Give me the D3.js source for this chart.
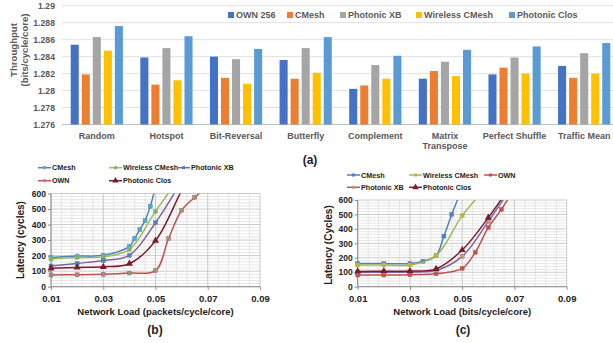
<!DOCTYPE html>
<html>
<head>
<meta charset="utf-8">
<script src="https://cdn.jsdelivr.net/npm/d3@7"></script>
<style>
body { margin: 0; background: #fff; }
text { font-family: "Liberation Sans", Arial, sans-serif; }
</style>
</head>
<body>
<svg id="fig" width="613" height="343"></svg>
<script>
// (a) throughput per traffic pattern
const patterns = ["Random", "Hotspot", "Bit-Reversal", "Butterfly", "Complement", "Matrix Transpose", "Perfect Shuffle", "Traffic Mean"];
const barSeries = ["OWN 256", "CMesh", "Photonic XB", "Wireless CMesh", "Photonic Clos"];
const own256 = [1.2854, 1.2839, 1.2840, 1.2836, 1.2802, 1.2814, 1.2819, 1.2829];
const cmesh = [1.2819, 1.2807, 1.2815, 1.2814, 1.2806, 1.2823, 1.2827, 1.2815];
const photonicXB = [1.2863, 1.2850, 1.2837, 1.2850, 1.2830, 1.2834, 1.2839, 1.2844];
const wirelessCMesh = [1.2847, 1.2812, 1.2808, 1.2821, 1.2814, 1.2817, 1.2820, 1.2820];
const photonicClos = [1.2876, 1.2864, 1.2849, 1.2863, 1.2841, 1.2848, 1.2852, 1.2856];
const throughputTicks = [1.276, 1.278, 1.28, 1.282, 1.284, 1.286, 1.288, 1.29];

// (b) latency vs load (packets/cycle/core)
const cmeshLoadB = [0.01, 0.02, 0.03, 0.04, 0.042, 0.044, 0.046, 0.048, 0.05];
const cmeshLatB = [188, 197, 202, 260, 310, 368, 425, 518, 640];
const wirelessLoadB = [0.01, 0.02, 0.03, 0.04, 0.05, 0.06];
const wirelessLatB = [178, 188, 192, 240, 485, 720];
const xbLoadB = [0.01, 0.02, 0.03, 0.04, 0.05, 0.06];
const xbLatB = [133, 150, 168, 202, 412, 680];
const ownLoadB = [0.01, 0.02, 0.03, 0.04, 0.05, 0.055, 0.06, 0.065, 0.07];
const ownLatB = [76, 77, 80, 88, 104, 310, 492, 575, 650];
const closLoadB = [0.01, 0.02, 0.03, 0.04, 0.05, 0.06, 0.07];
const closLatB = [118, 124, 128, 148, 296, 620, 950];

// (c) latency vs load (bits/cycle/core)
const cmeshLoadC = [0.01, 0.02, 0.03, 0.035, 0.04, 0.043, 0.046, 0.05];
const cmeshLatC = [160, 160, 160, 176, 215, 350, 500, 680];
const wirelessLoadC = [0.01, 0.02, 0.03, 0.04, 0.05, 0.06];
const wirelessLatC = [150, 150, 150, 215, 492, 700];
const ownLoadC = [0.01, 0.02, 0.03, 0.04, 0.05, 0.055, 0.06, 0.065, 0.07];
const ownLatC = [81, 81, 83, 90, 127, 238, 410, 535, 680];
const xbLoadC = [0.01, 0.02, 0.03, 0.04, 0.05, 0.06, 0.07];
const xbLatC = [100, 100, 102, 113, 210, 452, 720];
const closLoadC = [0.01, 0.02, 0.03, 0.04, 0.05, 0.06, 0.07];
const closLatC = [106, 107, 108, 123, 254, 478, 740];

const loadTicks = [0.01, 0.03, 0.05, 0.07, 0.09];
const latTicks = [0, 100, 200, 300, 400, 500, 600];

const svg = d3.select("#fig");
svg.append("rect").attr("width", 613).attr("height", 343).attr("fill", "#fff");

// ---------- (a) bar chart ----------
const barColors = ["#4472C4", "#ED7D31", "#A5A5A5", "#FFC000", "#5B9BD5"];
const barValues = [own256, cmesh, photonicXB, wirelessCMesh, photonicClos];

const x0 = d3.scaleBand().domain(patterns).range([62, 619]).paddingInner(0.25).paddingOuter(0.125);
const x1 = d3.scaleBand().domain(barSeries).range([0, x0.bandwidth()]).paddingInner(0.27);
const yA = d3.scaleLinear().domain([1.276, 1.29]).range([124.5, 5.7]);

const gA = svg.append("g");
gA.selectAll("line.grid").data(throughputTicks).join("line")
  .attr("x1", 62).attr("x2", 613)
  .attr("y1", d => yA(d)).attr("y2", d => yA(d))
  .attr("stroke", d => d === 1.276 ? "#BFBFBF" : "#E2E2E2").attr("stroke-width", 1);

gA.selectAll("text.ytick").data(throughputTicks).join("text")
  .attr("x", 55).attr("y", d => yA(d) + 3)
  .attr("text-anchor", "end").attr("font-size", 8.7).attr("font-weight", "bold").attr("fill", "#595959")
  .text(d => d3.format("")(+d.toFixed(3)));

const groups = gA.selectAll("g.cat").data(patterns).join("g")
  .attr("transform", d => `translate(${x0(d)},0)`);
groups.selectAll("rect").data((d, i) => barSeries.map((s, j) => ({ s, v: barValues[j][i], c: barColors[j] }))).join("rect")
  .attr("x", d => x1(d.s)).attr("width", x1.bandwidth())
  .attr("y", d => yA(d.v)).attr("height", d => yA(1.276) - yA(d.v))
  .attr("fill", d => d.c);

gA.selectAll("text.cat").data(patterns).join("text")
  .attr("text-anchor", "middle").attr("font-size", 9).attr("font-weight", "bold").attr("fill", "#595959")
  .attr("x", d => x0(d) + x0.bandwidth() / 2)
  .each(function (d) {
    const parts = d === "Matrix Transpose" ? ["Matrix", "Transpose"] : [d];
    d3.select(this).selectAll("tspan").data(parts).join("tspan")
      .attr("x", x0(d) + x0.bandwidth() / 2)
      .attr("y", (p, k) => 138.5 + k * 10)
      .text(p => p);
  });

const yTitle = gA.append("text").attr("transform", "translate(17,50) rotate(-90)")
  .attr("text-anchor", "middle").attr("font-size", 9.6).attr("font-weight", "bold").attr("fill", "#595959");
yTitle.append("tspan").attr("x", 0).attr("y", 0).text("Throughput");
yTitle.append("tspan").attr("x", 0).attr("y", 11).text("(bits/cycle/core)");

const legA = [228, 287, 340, 416, 509];
barSeries.forEach((s, i) => {
  gA.append("rect").attr("x", legA[i]).attr("y", 12).attr("width", 6).attr("height", 6).attr("fill", barColors[i]);
  gA.append("text").attr("x", legA[i] + 8).attr("y", 18.3)
    .attr("font-size", 9).attr("font-weight", "bold").attr("fill", "#595959").text(s);
});

svg.append("text").attr("x", 310).attr("y", 164).attr("text-anchor", "middle")
  .attr("font-size", 12).attr("font-weight", "bold").attr("fill", "#222").text("(a)");

// ---------- line charts ----------
function lineChart(cfg) {
  const x = d3.scaleLinear().domain([0.01, 0.09]).range([cfg.left, cfg.right]);
  const y = d3.scaleLinear().domain([0, 600]).range([cfg.bottom, cfg.top]);
  const g = svg.append("g");

  const id = "clip" + cfg.tag;
  g.append("clipPath").attr("id", id).append("rect")
    .attr("x", cfg.left - 4).attr("y", cfg.top).attr("width", cfg.right - cfg.left + 8).attr("height", cfg.bottom - cfg.top + 4);

  const minorX = d3.range(0, 21).map(k => 0.01 + k * 0.004);
  const minorY = d3.range(0, 31).map(k => k * 20);
  g.selectAll("line.hy").data(minorY).join("line")
    .attr("x1", cfg.left).attr("x2", cfg.right)
    .attr("y1", d => y(d)).attr("y2", d => y(d))
    .attr("stroke", d => d % 100 === 0 ? "#BDBDBD" : "#E0E0E0").attr("stroke-width", 0.8);
  g.selectAll("line.vx").data(minorX).join("line")
    .attr("y1", cfg.top).attr("y2", cfg.bottom)
    .attr("x1", d => x(d)).attr("x2", d => x(d))
    .attr("stroke", (d, k) => k % 5 === 0 ? "#BDBDBD" : "#E0E0E0").attr("stroke-width", 0.8);

  g.append("line").attr("x1", cfg.left).attr("x2", cfg.left).attr("y1", cfg.top).attr("y2", cfg.bottom).attr("stroke", "#8C8C8C");
  g.append("line").attr("x1", cfg.left).attr("x2", cfg.right).attr("y1", cfg.bottom).attr("y2", cfg.bottom).attr("stroke", "#8C8C8C");

  const xa = g.append("g").attr("transform", `translate(0,${cfg.bottom})`)
    .call(d3.axisBottom(x).tickValues(loadTicks).tickFormat(d3.format(".2f")).tickSize(3));
  xa.select(".domain").remove();
  xa.selectAll("line").attr("stroke", "#8C8C8C");
  xa.selectAll("text").attr("font-size", 9.5).attr("font-weight", "bold").attr("fill", "#222").attr("dy", "0.95em")
    .style("font-family", '"Liberation Sans", Arial, sans-serif');

  const ya = g.append("g").attr("transform", `translate(${cfg.left},0)`)
    .call(d3.axisLeft(y).tickValues(latTicks).tickSize(3));
  ya.select(".domain").remove();
  ya.selectAll("line").attr("stroke", "#8C8C8C");
  ya.selectAll("text").attr("font-size", 8.5).attr("font-weight", "bold").attr("fill", "#222").attr("x", -5)
    .style("font-family", '"Liberation Sans", Arial, sans-serif');

  g.append("text").attr("x", (cfg.left + cfg.right) / 2 + cfg.xTitleShift).attr("y", 315)
    .attr("text-anchor", "middle").attr("font-size", 9.5).attr("font-weight", "bold").attr("fill", "#222").text(cfg.xTitle);
  g.append("text").attr("transform", `translate(${cfg.yTitleX},${cfg.yTitleY}) rotate(-90)`)
    .attr("text-anchor", "middle").attr("font-size", 10).attr("font-weight", "bold").attr("fill", "#222").text(cfg.yTitle);

  const line = d3.line().x(d => x(d[0])).y(d => y(d[1])).curve(d3.curveCatmullRom.alpha(0.5));
  const plot = g.append("g").attr("clip-path", `url(#${id})`);
  cfg.series.forEach(s => {
    const pts = s.load.map((l, k) => [l, s.lat[k]]);
    plot.append("path").datum(pts).attr("d", line).attr("fill", "none").attr("stroke", s.color).attr("stroke-width", 1.5);
    const shown = pts.filter(p => p[1] <= 600);
    if (s.shape === "tri") {
      plot.selectAll(null).data(shown).join("path")
        .attr("d", d3.symbol(d3.symbolTriangle, 22)())
        .attr("transform", d => `translate(${x(d[0])},${y(d[1])})`).attr("fill", s.marker);
    } else {
      plot.selectAll(null).data(shown).join("rect")
        .attr("x", d => x(d[0]) - 2).attr("y", d => y(d[1]) - 2).attr("width", 4).attr("height", 4)
        .attr("fill", s.marker).attr("stroke", s.color).attr("stroke-width", 0.4);
    }
  });

  cfg.series.forEach(s => {
    const lx = s.leg[0], ly = s.leg[1];
    g.append("line").attr("x1", lx).attr("x2", lx + 13).attr("y1", ly).attr("y2", ly).attr("stroke", s.color).attr("stroke-width", 1.5);
    if (s.shape === "tri") {
      g.append("path").attr("d", d3.symbol(d3.symbolTriangle, 18)()).attr("transform", `translate(${lx + 6.5},${ly})`).attr("fill", s.marker);
    } else {
      g.append("rect").attr("x", lx + 5).attr("y", ly - 1.5).attr("width", 3).attr("height", 3).attr("fill", s.marker);
    }
    g.append("text").attr("x", lx + 14).attr("y", ly + 2.5)
      .attr("font-size", 7.2).attr("font-weight", "bold").attr("fill", "#222").text(s.name);
  });

  svg.append("text").attr("x", cfg.capX).attr("y", 334).attr("text-anchor", "middle")
    .attr("font-size", 12).attr("font-weight", "bold").attr("fill", "#222").text(cfg.cap);
}

lineChart({
  tag: "b", left: 51, right: 260, top: 193.5, bottom: 286.7,
  xTitle: "Network Load (packets/cycle/core)", xTitleShift: 0,
  yTitle: "Latency (cycles)", yTitleX: 24, yTitleY: 240,
  cap: "(b)", capX: 155,
  series: [
    { name: "CMesh", load: cmeshLoadB, lat: cmeshLatB, color: "#4F81BD", marker: "#4BACC6", leg: [38, 167.7] },
    { name: "Wireless CMesh", load: wirelessLoadB, lat: wirelessLatB, color: "#9BBB59", marker: "#7FAF6F", leg: [109, 167.7] },
    { name: "Photonic XB", load: xbLoadB, lat: xbLatB, color: "#8064A2", marker: "#4F81BD", leg: [177, 167.7] },
    { name: "OWN", load: ownLoadB, lat: ownLatB, color: "#C0504D", marker: "#8C9A7C", leg: [38, 180.7] },
    { name: "Photonic Clos", load: closLoadB, lat: closLatB, color: "#7B1C2E", marker: "#7B1C2E", shape: "tri", leg: [109, 180.7] }
  ]
});

lineChart({
  tag: "c", left: 357.7, right: 566.7, top: 200, bottom: 286.7,
  xTitle: "Network Load (bits/cycle/core)", xTitleShift: 0,
  yTitle: "Latency (Cycles)", yTitleX: 332, yTitleY: 245,
  cap: "(c)", capX: 463,
  series: [
    { name: "CMesh", load: cmeshLoadC, lat: cmeshLatC, color: "#4F81BD", marker: "#4F81BD", leg: [347, 175] },
    { name: "Wireless CMesh", load: wirelessLoadC, lat: wirelessLatC, color: "#9BBB59", marker: "#C9B23A", leg: [409, 175] },
    { name: "OWN", load: ownLoadC, lat: ownLatC, color: "#C0504D", marker: "#C0504D", leg: [484, 175] },
    { name: "Photonic XB", load: xbLoadC, lat: xbLatC, color: "#8064A2", marker: "#D09A5A", leg: [347, 187.3] },
    { name: "Photonic Clos", load: closLoadC, lat: closLatC, color: "#7B1C2E", marker: "#7B1C2E", shape: "tri", leg: [409, 187.3] }
  ]
});
</script>
</body>
</html>
